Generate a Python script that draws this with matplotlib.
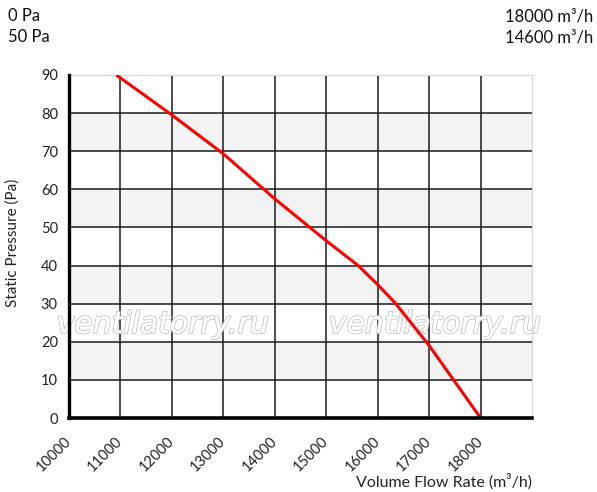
"""Fan curve: static pressure vs volume flow rate, redrawn from the datasheet chart."""

import matplotlib
matplotlib.use("Agg")
import matplotlib.pyplot as plt
import matplotlib.patheffects as pe

plt.rcParams["font.family"] = ["Lato", "DejaVu Sans"]

# curve
flow = [10920, 12000, 13000, 14000, 15000, 15620, 16000, 16350, 17000, 18000]
pressure = [90, 79.5, 69.3, 57.5, 46.5, 40, 35, 30, 19, 0]

x_ticks = [10000, 11000, 12000, 13000, 14000, 15000, 16000, 17000, 18000]
y_ticks = [0, 10, 20, 30, 40, 50, 60, 70, 80, 90]
bands = [(10, 20), (30, 40), (50, 60), (70, 80)]

header_left = ["0 Pa", "50 Pa"]
header_right = ["18000 m³/h", "14600 m³/h"]
watermark = "ventilatorry.ru"

fig = plt.figure(figsize=(5.97, 4.92), dpi=100)
ax = fig.add_axes([69 / 597, 74 / 492, 463 / 597, 343 / 492])

for lo, hi in bands:
    ax.axhspan(lo, hi, color="#f3f3f3", zorder=0, lw=0)

ax.set_xlim(10000, 19000)
ax.set_ylim(0, 90)
ax.set_xticks(x_ticks)
ax.set_yticks(y_ticks)
ax.grid(True, color="#1a1a1a", lw=1.1, zorder=1)
ax.set_axisbelow(True)
ax.get_ygridlines()[-1].set_visible(False)
ax.get_xgridlines()[0].set_visible(False)

ax.plot(flow, pressure, color="#ff0000", lw=2.2, zorder=3, solid_capstyle="butt")

for s in ("top", "right"):
    ax.spines[s].set_color("#d6d6d6")
    ax.spines[s].set_linewidth(0.8)
ax.spines["left"].set_linewidth(2.4)
ax.spines["bottom"].set_linewidth(2.6)
ax.spines["left"].set_zorder(4)
ax.spines["bottom"].set_zorder(4)

ax.tick_params(length=0, labelsize=10.5, labelcolor="#222222")
ax.tick_params(axis="y", pad=8)
ax.tick_params(axis="x", pad=15)
for lab in ax.get_xticklabels():
    lab.set_rotation(45)
    lab.set_ha("right")
    lab.set_va("center")
    lab.set_rotation_mode("anchor")

ax.text(1.0, -0.184, "Volume Flow Rate (m³/h)", transform=ax.transAxes,
        ha="right", va="center", fontsize=11.5, color="#222222")
fig.text(12.5 / 597, 1 - 243 / 492, "Static Pressure (Pa)", rotation=90,
         ha="center", va="center", fontsize=11, color="#222222")

# watermark, outlined
for xf in (0.202, 0.790):
    ax.text(xf, 0.248, watermark, transform=ax.transAxes, ha="center", va="baseline",
            fontsize=21.5, style="italic", family="DejaVu Sans", color="white", zorder=2,
            path_effects=[pe.withStroke(linewidth=1.4, foreground="#c4c4c4"),
                          pe.Normal()])

for i, (l, r) in enumerate(zip(header_left, header_right)):
    y = 1 - (16 + 21.5 * i) / 492
    fig.text(8 / 597, y, l, ha="left", va="center", fontsize=12, color="#111111")
    fig.text(593 / 597, y, r, ha="right", va="center", fontsize=12, color="#111111")

fig.savefig("out.png", dpi=100)
